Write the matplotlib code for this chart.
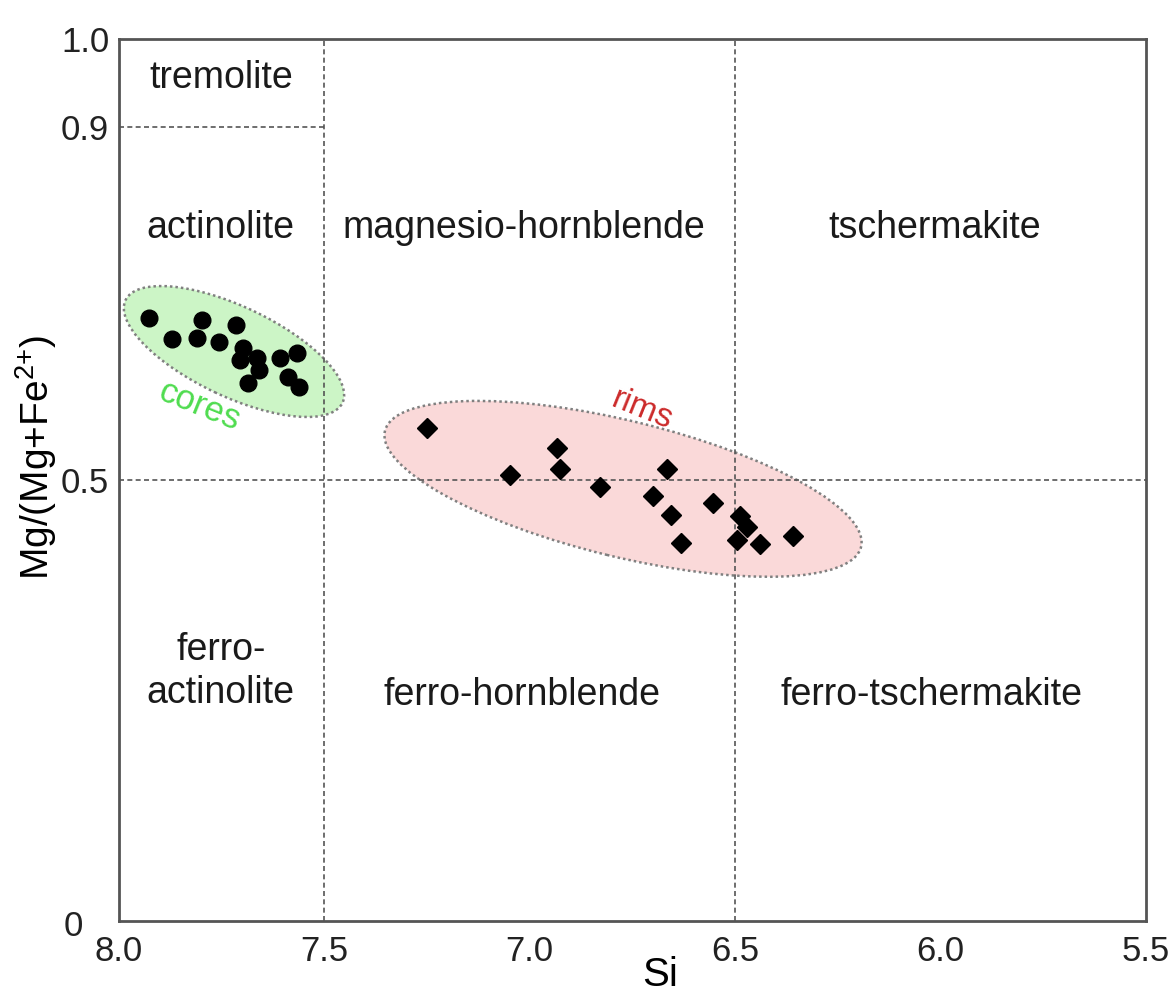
import matplotlib
matplotlib.use('Agg')
import matplotlib.pyplot as plt
from matplotlib.patches import Ellipse
from matplotlib.transforms import ScaledTranslation

plt.rcParams['font.family'] = ['Liberation Sans', 'DejaVu Sans']
plt.rcParams['mathtext.fontset'] = 'custom'
plt.rcParams['mathtext.rm'] = 'Liberation Sans'
plt.rcParams['mathtext.it'] = 'Liberation Sans:italic'

# cores (circles)
core_si = [7.926, 7.872, 7.799, 7.811, 7.757, 7.715, 7.699, 7.705, 7.665,
           7.658, 7.685, 7.608, 7.567, 7.588, 7.561]
core_mg = [0.684, 0.660, 0.681, 0.661, 0.657, 0.676, 0.650, 0.636, 0.638,
           0.625, 0.610, 0.638, 0.644, 0.617, 0.605]

# rims (diamonds)
rim_si = [7.251, 7.048, 6.933, 6.926, 6.829, 6.665, 6.699, 6.657, 6.633,
          6.553, 6.488, 6.472, 6.496, 6.440, 6.360]
rim_mg = [0.559, 0.506, 0.536, 0.512, 0.492, 0.512, 0.482, 0.460, 0.429,
          0.474, 0.459, 0.447, 0.432, 0.427, 0.436]

# field names and where they sit (Si, Mg#)
fields = ['tremolite', 'actinolite', 'magnesio-hornblende', 'tschermakite',
          'ferro-\nactinolite', 'ferro-hornblende', 'ferro-tschermakite']
field_si = [7.752, 7.752, 7.014, 6.014, 7.752, 7.019, 6.021]
field_mg = [0.956, 0.786, 0.786, 0.786, 0.283, 0.256, 0.256]

fig = plt.figure(figsize=(11.73, 9.96), dpi=100)
ax = fig.add_axes([0.1014, 0.0753, 0.8756, 0.8855])

ax.set_xlim(8.0, 5.5)
ax.set_ylim(0, 1.0)

# group envelopes (size in inches, centred on data point)
env_cores = Ellipse((0, 0), 2.40, 0.90, angle=-25.3,
                    transform=fig.dpi_scale_trans + ScaledTranslation(7.720, 0.6457, ax.transData),
                    facecolor='#ccf5c6', edgecolor='#808080', lw=1.8, ls=(0, (1, 1.2)), zorder=1)
env_rims = Ellipse((0, 0), 4.90, 1.36, angle=-13.7,
                   transform=fig.dpi_scale_trans + ScaledTranslation(6.773, 0.490, ax.transData),
                   facecolor='#fad9d9', edgecolor='#808080', lw=1.8, ls=(0, (1, 1.2)), zorder=1)
ax.add_patch(env_cores)
ax.add_patch(env_rims)

# field boundaries
dash = dict(color='#555555', lw=1.2, ls=(0, (3, 2)), zorder=2)
ax.axvline(7.5, **dash)
ax.axvline(6.5, **dash)
ax.axhline(0.5, **dash)
ax.plot([8.0, 7.5], [0.9, 0.9], **dash)

ax.plot(core_si, core_mg, 'o', color='black', ms=12, zorder=4)
ax.plot(rim_si, rim_mg, 'D', color='black', ms=10, zorder=4)

for name, x, y in zip(fields, field_si, field_mg):
    ax.text(x, y, name, ha='center', va='center', fontsize=27, color='#1a1a1a',
            linespacing=1.25)

ax.text(7.803, 0.584, 'cores', color='#4fdc4f', fontsize=25, rotation=-22,
        ha='center', va='center')
ax.text(6.727, 0.579, 'rims', color='#cc2a2a', fontsize=24, rotation=-22,
        ha='center', va='center')

ax.set_xticks([8.0, 7.5, 7.0, 6.5, 6.0, 5.5])
ax.set_xticklabels(['8.0', '7.5', '7.0', '6.5', '6.0', '5.5'])
ax.set_yticks([0.5, 0.9, 1.0])
ax.set_yticklabels(['0.5', '0.9', '1.0'])
ax.tick_params(axis='x', length=0, pad=10, labelsize=25, colors='#222222')
ax.tick_params(axis='y', length=0, pad=7, labelsize=25, colors='#222222')
ax.text(-0.035, -0.006, '0', transform=ax.transAxes, ha='right', va='center',
        fontsize=25, color='#222222')

ax.set_xlabel('Si', fontsize=29)
ax.xaxis.set_label_coords(0.527, -0.04)
ax.set_ylabel('Mg/(Mg+Fe$^{2{+}}$)', fontsize=28)
ax.yaxis.set_label_coords(-0.058, 0.525)

for s in ax.spines.values():
    s.set_color('#555555')
    s.set_linewidth(2)

fig.savefig('out.png', dpi=100, facecolor='white')
